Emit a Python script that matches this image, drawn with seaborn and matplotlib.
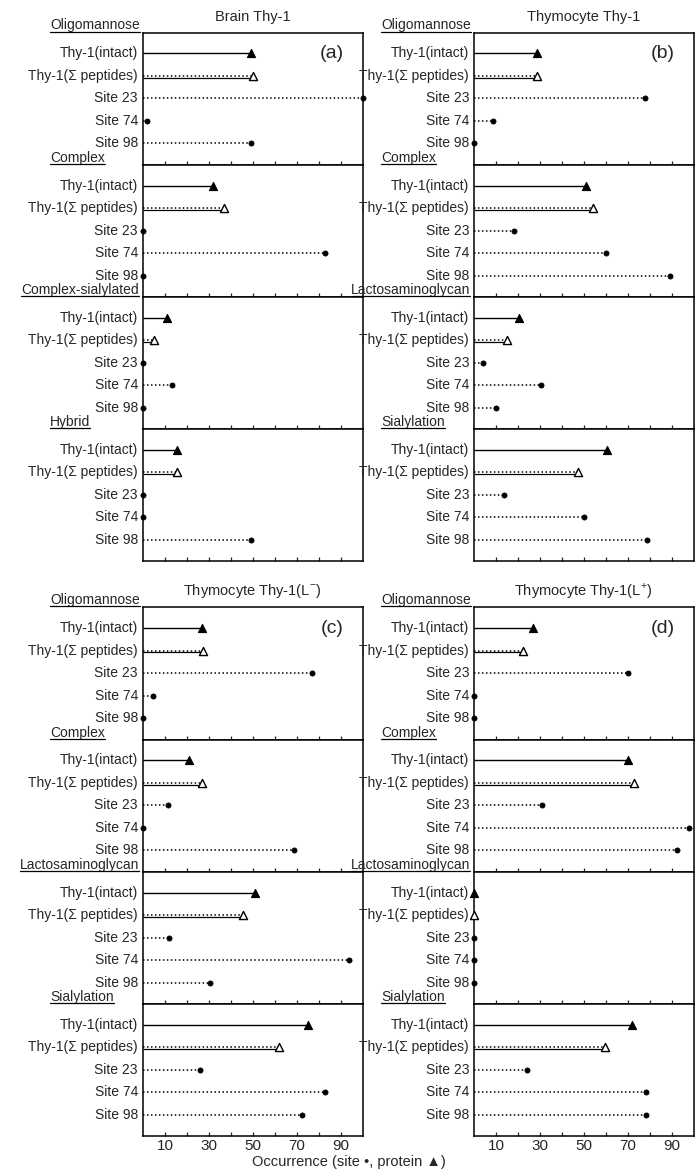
import numpy as np
import pandas as pd
import seaborn as sns
import matplotlib.pyplot as plt
from matplotlib.lines import Line2D

# filas de cada bloque
rows = ["Thy-1(intact)", "Thy-1(Σ peptides)", "Site 23", "Site 74", "Site 98"]
kinds = ["intact", "peptides", "site", "site", "site"]

titles = ["Brain Thy-1", "Thymocyte Thy-1", "Thymocyte Thy-1(L$^{-}$)", "Thymocyte Thy-1(L$^{+}$)"]
letters = ["(a)", "(b)", "(c)", "(d)"]

groups_brain = ["Oligomannose", "Complex", "Complex-sialylated", "Hybrid"]
groups_thymo = ["Oligomannose", "Complex", "Lactosaminoglycan", "Sialylation"]

# ocurrencia (%), un bloque por tipo de oligosacarido
brain = [[49, 50, 100, 2, 49],
         [32, 37, 0, 83, 0],
         [11, 5, 0, 13, 0],
         [15.5, 15.5, 0, 0, 49]]
thymocyte = [[28.5, 28.5, 78, 8.5, 0],
             [51, 54, 18, 60, 89.5],
             [20.5, 15, 4, 30.5, 10],
             [60.5, 47.5, 13.5, 50, 79]]
thy_lminus = [[27, 27.5, 77, 4.5, 0],
              [21, 27, 11.5, 0, 69],
              [51, 45.5, 12, 94, 30.5],
              [75, 62, 26, 83, 72.5]]
thy_lplus = [[27, 22.5, 70, 0, 0],
             [70, 73, 31, 98, 92.5],
             [0, 0, 0, 0, 0],
             [72, 59.5, 24, 78.5, 78.5]]

panel_values = [brain, thymocyte, thy_lminus, thy_lplus]
panel_groups = [groups_brain, groups_thymo, groups_thymo, groups_thymo]

sns.set_style("white")
plt.rcParams['font.family'] = ['Liberation Sans', 'DejaVu Sans']
plt.rcParams['mathtext.fontset'] = 'custom'
plt.rcParams['mathtext.rm'] = 'Liberation Sans'

W, H = 697, 1169
fig = plt.figure(figsize=(W / 100, H / 100), dpi=100)

panel_left = [143, 474, 143, 474]
panel_top = [32.5, 32.5, 607.3, 607.3]
panel_w = 219.5
group_h = 132.2
fs = 10
dotted = (0, (1, 1.6))


def pt(v):
    return v * 0.72


labels_to_underline = []

for p in range(4):
    for g in range(4):
        top = panel_top[p] + g * group_h
        ax = fig.add_axes([panel_left[p] / W, 1 - (top + group_h) / H,
                           panel_w / W, group_h / H])
        v = np.array(panel_values[p][g], dtype=float)
        pos = np.arange(5)
        df = pd.DataFrame({"value": v, "pos": pos, "kind": kinds})

        # tallos
        ax.hlines(pos[0], 0, v[0], color="k", lw=1.0)
        ax.hlines(pos[1], 0, v[1], color="k", lw=1.1, linestyles=[dotted])
        ax.hlines(pos[1] + 0.08, 0, v[1], color="k", lw=0.9)
        ax.hlines(pos[2:], 0, v[2:], color="k", lw=1.1, linestyles=[dotted])

        # marcadores
        sns.scatterplot(data=df[df.kind == "intact"], x="value", y="pos", marker="^",
                        color="k", edgecolor="k", linewidth=0.8, s=34, ax=ax,
                        clip_on=False, zorder=5)
        sns.scatterplot(data=df[df.kind == "peptides"], x="value", y="pos", marker="^",
                        color="white", edgecolor="k", linewidth=1.0, s=34, ax=ax,
                        clip_on=False, zorder=5)
        sns.scatterplot(data=df[df.kind == "site"], x="value", y="pos", marker="o",
                        color="k", edgecolor="k", linewidth=0.5, s=14, ax=ax,
                        clip_on=False, zorder=5)

        ax.set_xlim(0, 100)
        ax.set_ylim(4.95, -0.93)
        ax.set_yticks([])
        ax.set_xlabel("")
        ax.set_ylabel("")
        ax.set_xticks(range(10, 100, 10))
        ax.tick_params(axis="x", direction="in", length=3, width=0.9, bottom=True,
                       top=False, labelsize=fs + 1, pad=2)
        if p >= 2 and g == 3:
            ax.set_xticklabels([str(t) if (t // 10) % 2 == 1 else "" for t in range(10, 100, 10)])
        else:
            ax.set_xticklabels([])
        for s in ax.spines.values():
            s.set_linewidth(1.1)
            s.set_color("k")

        for i, r in enumerate(rows):
            ax.annotate(r, xy=(0, i), xycoords=("axes fraction", "data"),
                        xytext=(-pt(5), 0), textcoords="offset points",
                        ha="right", va="center", fontsize=fs)

        name = panel_groups[p][g]
        if len(name) > 14:
            t = ax.annotate(name, xy=(0, 1), xycoords="axes fraction",
                            xytext=(-pt(4), pt(3)), textcoords="offset points",
                            ha="right", va="baseline", fontsize=fs)
        else:
            t = ax.annotate(name, xy=(0, 1), xycoords="axes fraction",
                            xytext=(-pt(93), pt(3)), textcoords="offset points",
                            ha="left", va="baseline", fontsize=fs)
        labels_to_underline.append((t, ax))

        if g == 0:
            ax.annotate(titles[p], xy=(0.5, 1), xycoords="axes fraction",
                        xytext=(0, pt(16)), textcoords="offset points",
                        ha="center", va="center", fontsize=fs + 0.5)
            ax.annotate(letters[p], xy=(1, 1), xycoords="axes fraction",
                        xytext=(-pt(19), -pt(21)), textcoords="offset points",
                        ha="right", va="center", fontsize=14)

fig.text(0.5, 1 - 1162 / H, "Occurrence (site •, protein ▲)", ha="center",
         va="center", fontsize=fs + 0.5)

# subrayado de los nombres de grupo
fig.canvas.draw()
for t, ax in labels_to_underline:
    bb = t.get_window_extent()
    y = ax.get_window_extent().y1 + 1
    fig.add_artist(Line2D([bb.x0 / W, bb.x1 / W], [y / H, y / H],
                          transform=fig.transFigure, color="k", lw=0.9))

fig.savefig("out.png", dpi=100)
